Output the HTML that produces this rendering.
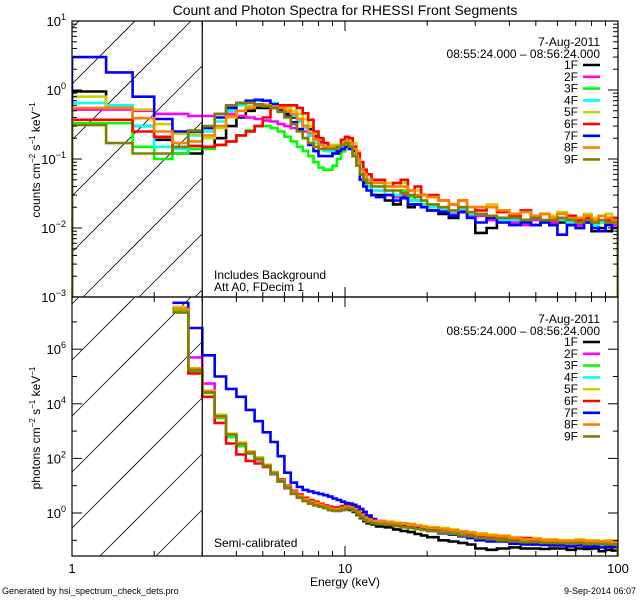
<!DOCTYPE html>
<html><head><meta charset="utf-8">
<style>
html,body{margin:0;padding:0;background:#fff;width:640px;height:600px;overflow:hidden;}
svg{display:block;font-family:"Liberation Sans",sans-serif;overflow:hidden;}
text{fill:#000;}
</style></head>
<body>
<svg id="chart" width="640" height="600" viewBox="0 0 640 600" xmlns="http://www.w3.org/2000/svg">
<defs>
<clipPath id="clipTop"><rect x="72" y="21" width="546" height="276"/></clipPath>
<clipPath id="clipBot"><rect x="72" y="297" width="546" height="259"/></clipPath>
</defs>
<text x="345" y="15" font-size="14" text-anchor="middle">Count and Photon Spectra for RHESSI Front Segments</text>
<g id="hatch"></g>
<g id="series"></g>
<g id="axes"></g>
<g id="legend"></g>
<text x="214" y="279" font-size="12">Includes Background</text>
<text x="214" y="291" font-size="12">Att A0, FDecim 1</text>
<text x="214" y="547" font-size="12">Semi-calibrated</text>
<text transform="translate(40,160) rotate(-90)" font-size="12" text-anchor="middle">counts cm<tspan dy="-5" font-size="8">−2</tspan><tspan dy="5"> s</tspan><tspan dy="-5" font-size="8">−1</tspan><tspan dy="5"> keV</tspan><tspan dy="-5" font-size="8">−1</tspan></text>
<text transform="translate(40,428) rotate(-90)" font-size="12" text-anchor="middle">photons cm<tspan dy="-5" font-size="8">−2</tspan><tspan dy="5"> s</tspan><tspan dy="-5" font-size="8">−1</tspan><tspan dy="5"> keV</tspan><tspan dy="-5" font-size="8">−1</tspan></text>
<text x="345" y="586" font-size="12" text-anchor="middle">Energy (keV)</text>
<text x="2" y="594" font-size="9">Generated by hsi_spectrum_check_dets.pro</text>
<text x="636" y="594" font-size="9" text-anchor="end">9-Sep-2014 06:07</text>
</svg>
<script>
const binEdges=[1,1.333,1.667,2,2.333,2.667,3,3.333,3.667,4,4.333,4.667,5,5.333,5.667,6,6.333,6.667,7,7.333,7.667,8,8.333,8.667,9,9.333,9.667,10,10.333,10.667,11,11.333,11.667,12,12.5,13,14,15,16,17,18,19,20,22,24,26,28,30,33,36,40,44,48,52,56,60,65,70,75,80,85,90,95,100];
const segNames=["1F","2F","3F","4F","5F","6F","7F","8F","9F"];
const segColors=["#000000","#ff00ff","#00ff00","#00ffff","#d0d000","#ff0000","#0000ff","#ff8000","#808000"];
const xTicksMajor=[1,10,100];
const xTickLabels=["1","10","100"];
const topYDecades=[-3,-2,-1,0,1];
const botYLabelDecades=[0,2,4,6];
// count spectra (63 bins)
const cnt1F=[0.95,0.57,0.30,0.19,0.12,0.12, 0.15,0.2,0.3,0.4,0.5,0.55, 0.55,0.55,0.5,0.45,0.4,0.35, 0.3,0.27,0.22,0.18,0.15,0.13, 0.12,0.12,0.13,0.15,0.16,0.13,0.1,0.06,0.045, 0.04,0.03, 0.03,0.025,0.022,0.028,0.02,0.022,0.02, 0.018,0.016,0.014,0.017,0.015, 0.0085,0.01,0.014, 0.012,0.013,0.011,0.012,0.011, 0.012,0.011,0.01,0.012,0.009,0.01,0.009,0.01];
const cnt2F=[0.52,0.52,0.5,0.45,0.45,0.42, 0.42,0.45,0.45,0.42,0.4,0.38, 0.36,0.35,0.32,0.3,0.28,0.26, 0.25,0.22,0.2,0.17,0.15,0.13, 0.12,0.13,0.14,0.16,0.15,0.12,0.09,0.06,0.05, 0.04,0.035, 0.035,0.03,0.028,0.03,0.025,0.025,0.022, 0.02,0.018,0.016,0.018,0.015, 0.015,0.013,0.012, 0.012,0.011,0.013,0.012,0.012, 0.013,0.012,0.011,0.013,0.011,0.012,0.011,0.011];
const cnt3F=[0.33,0.33,0.15,0.1,0.12,0.14, 0.14,0.16,0.18,0.22,0.26,0.3, 0.3,0.28,0.25,0.21,0.18,0.15, 0.13,0.11,0.09,0.075,0.07,0.07, 0.08,0.1,0.13,0.16,0.14,0.11,0.08,0.06,0.05, 0.045,0.04, 0.04,0.035,0.03,0.035,0.028,0.025,0.025, 0.022,0.02,0.018,0.02,0.016, 0.016,0.015,0.013, 0.014,0.012,0.014,0.012,0.013, 0.014,0.013,0.012,0.013,0.011,0.012,0.012,0.012];
const cnt4F=[0.65,0.6,0.3,0.15,0.14,0.22, 0.25,0.35,0.5,0.6,0.65,0.7, 0.7,0.65,0.58,0.5,0.42,0.35, 0.28,0.22,0.17,0.14,0.13,0.13, 0.13,0.14,0.15,0.17,0.16,0.12,0.09,0.07,0.05, 0.04,0.035, 0.035,0.03,0.03,0.032,0.025,0.025,0.022, 0.02,0.019,0.017,0.019,0.016, 0.016,0.014,0.013, 0.013,0.012,0.014,0.012,0.013, 0.013,0.012,0.012,0.013,0.011,0.012,0.012,0.01];
const cnt5F=[0.8,0.55,0.52,0.32,0.23,0.23, 0.2,0.28,0.4,0.5,0.58,0.62, 0.62,0.62,0.6,0.55,0.5,0.45, 0.38,0.3,0.23,0.19,0.17,0.16, 0.16,0.16,0.17,0.19,0.2,0.17,0.13,0.09,0.07, 0.06,0.05, 0.05,0.045,0.04,0.045,0.035,0.035,0.03, 0.028,0.025,0.022,0.025,0.02, 0.02,0.022,0.018, 0.016,0.018,0.015,0.016,0.015, 0.017,0.015,0.014,0.016,0.014,0.015,0.016,0.014];
const cnt6F=[0.37,0.37,0.25,0.21,0.15,0.155, 0.15,0.16,0.18,0.22,0.25,0.3, 0.4,0.55,0.6,0.6,0.6,0.55, 0.46,0.37,0.25,0.2,0.17,0.15, 0.145,0.15,0.19,0.21,0.2,0.15,0.12,0.09,0.07, 0.06,0.05, 0.05,0.04,0.045,0.05,0.035,0.04,0.03, 0.03,0.025,0.022,0.025,0.02, 0.018,0.02,0.017, 0.015,0.018,0.014,0.016,0.013, 0.014,0.015,0.013,0.014,0.012,0.015,0.013,0.014];
const cnt7F=[3.0,1.8,0.8,0.38,0.25,0.25, 0.28,0.4,0.55,0.65,0.7,0.72, 0.7,0.62,0.52,0.42,0.34,0.27, 0.2,0.16,0.13,0.11,0.11,0.11, 0.12,0.13,0.14,0.15,0.14,0.11,0.08,0.05,0.04, 0.035,0.03, 0.028,0.03,0.025,0.027,0.022,0.022,0.02, 0.018,0.017,0.015,0.017,0.014, 0.012,0.014,0.012, 0.011,0.012,0.011,0.012,0.011, 0.008,0.011,0.01,0.012,0.01,0.009,0.011,0.01];
const cnt8F=[0.55,0.55,0.39,0.25,0.17,0.18, 0.22,0.3,0.42,0.5,0.55,0.6, 0.6,0.58,0.55,0.5,0.45,0.38, 0.3,0.24,0.19,0.16,0.15,0.15, 0.15,0.15,0.16,0.18,0.17,0.14,0.1,0.07,0.06, 0.05,0.045, 0.045,0.04,0.04,0.04,0.035,0.03,0.03, 0.028,0.025,0.022,0.025,0.02, 0.02,0.02,0.018, 0.016,0.017,0.015,0.016,0.014, 0.016,0.014,0.014,0.015,0.013,0.015,0.014,0.013];
const cnt9F=[0.31,0.17,0.12,0.12,0.15,0.26, 0.3,0.45,0.6,0.65,0.65,0.62, 0.58,0.55,0.48,0.4,0.32,0.25, 0.2,0.17,0.15,0.14,0.14,0.14, 0.14,0.15,0.16,0.17,0.15,0.11,0.08,0.06,0.05, 0.045,0.04, 0.04,0.035,0.035,0.032,0.03,0.028,0.025, 0.022,0.02,0.018,0.02,0.017, 0.016,0.015,0.014, 0.014,0.013,0.014,0.013,0.013, 0.014,0.013,0.012,0.013,0.012,0.013,0.012,0.012];
// photon spectra (59 bins, starting at 2.333 keV)
const ph1F=[3e7,1.8e5,3e4,3.5e3,7e2,3.3e2,1.6e2,95, 52,28,15,8.5,5.3,3.8, 2.8,2.3,2.0,1.8,1.5,1.3, 1.2,1.2,1.3,1.4,1.3,1.1,0.85,0.65,0.5, 0.42,0.38, 0.32,0.3,0.25,0.22,0.2,0.17,0.15, 0.13,0.1,0.09,0.08,0.07, 0.05,0.045,0.05, 0.055,0.05,0.05,0.048,0.05, 0.05,0.045,0.05,0.048,0.05,0.04,0.045,0.042];
const ph2F=[3e7,5e5,5.5e4,3.5e3,7e2,3e2,1.5e2,85, 48,26,14,8,5,3.6, 2.8,2.3,2.0,1.8,1.6,1.4, 1.3,1.3,1.4,1.5,1.4,1.2,0.95,0.75,0.6, 0.5,0.45, 0.42,0.4,0.36,0.33,0.3,0.28,0.26, 0.24,0.2,0.18,0.16,0.14, 0.12,0.11,0.1, 0.08,0.085,0.07,0.08,0.075, 0.078,0.075,0.08,0.07,0.075,0.07,0.072,0.07];
const ph3F=[2.5e7,1.6e5,2.5e4,3e3,6e2,2.8e2,1.5e2,90, 50,27,15,8.5,5.2,3.8, 2.9,2.4,2.1,1.8,1.5,1.3, 1.3,1.3,1.4,1.6,1.5,1.2,0.95,0.75,0.6, 0.5,0.45, 0.45,0.42,0.38,0.36,0.33,0.3,0.28, 0.26,0.22,0.2,0.18,0.16, 0.13,0.12,0.11, 0.1,0.095,0.09,0.088,0.085, 0.083,0.08,0.08,0.078,0.075,0.075,0.073,0.07];
const ph4F=[3e7,1.7e5,2.8e4,3.3e3,7e2,3.2e2,1.6e2,95, 54,28,15,8.8,5.5,4, 3,2.4,2.1,1.9,1.6,1.4, 1.3,1.3,1.4,1.6,1.5,1.2,0.95,0.72,0.58, 0.48,0.43, 0.4,0.38,0.34,0.32,0.3,0.27,0.25, 0.22,0.2,0.18,0.16,0.14, 0.12,0.11,0.1, 0.09,0.085,0.08,0.08,0.078, 0.075,0.072,0.075,0.07,0.07,0.068,0.07,0.06];
const ph5F=[3.5e7,2e5,3e4,4e3,8e2,3.8e2,1.8e2,1.1e2, 60,32,17,10,6.3,4.5, 3.4,2.8,2.4,2.1,1.8,1.6, 1.5,1.5,1.6,1.8,1.7,1.5,1.2,0.9,0.7, 0.6,0.55, 0.5,0.48,0.45,0.42,0.4,0.36,0.33, 0.3,0.28,0.25,0.22,0.2, 0.18,0.16,0.15, 0.13,0.12,0.12,0.11,0.11, 0.1,0.1,0.11,0.1,0.1,0.095,0.1,0.09];
const ph6F=[3e7,1.3e5,1.8e4,2e3,3.5e2,1.4e2,80,65, 50,30,17,10,6.5,4.8, 3.6,3,2.6,2.2,1.9,1.7, 1.6,1.6,1.8,2,1.9,1.6,1.3,1,0.8, 0.65,0.55, 0.5,0.46,0.42,0.4,0.36,0.33,0.3, 0.28,0.25,0.22,0.2,0.18, 0.15,0.14,0.13, 0.11,0.12,0.1,0.1,0.095, 0.095,0.09,0.095,0.085,0.09,0.085,0.088,0.085];
const ph7F=[5e7,6e6,6e5,1e5,3.5e4,1.8e4,6e3,2.3e3, 9e2,4e2,1.2e2,30,13,9, 7,6.2,5.5,5,4.5,4, 3.4,3,2.6,2.3,2.2,2,1.7,1.4,1.1, 0.8,0.6, 0.5,0.45,0.38,0.35,0.3,0.28,0.25, 0.22,0.18,0.16,0.14,0.12, 0.1,0.09,0.09, 0.075,0.07,0.07,0.068,0.065, 0.065,0.06,0.065,0.058,0.06,0.055,0.058,0.056];
const ph8F=[3e7,1.9e5,2.8e4,3.3e3,7.5e2,3.5e2,1.7e2,1e2, 56,30,16,9.5,6,4.3, 3.2,2.6,2.3,2,1.7,1.5, 1.4,1.4,1.5,1.7,1.6,1.4,1.1,0.85,0.68, 0.58,0.52, 0.5,0.46,0.42,0.4,0.36,0.34,0.31, 0.29,0.26,0.23,0.21,0.19, 0.16,0.15,0.14, 0.12,0.11,0.11,0.1,0.1, 0.095,0.095,0.1,0.09,0.092,0.09,0.09,0.085];
const ph9F=[2.2e7,1.7e5,2.6e4,3.5e3,7.5e2,3.3e2,1.6e2,95, 52,28,15,8.5,5.2,3.7, 2.7,2.2,1.9,1.7,1.5,1.3, 1.2,1.2,1.3,1.5,1.4,1.2,0.9,0.7,0.55, 0.47,0.42, 0.4,0.37,0.33,0.3,0.28,0.26,0.24, 0.22,0.19,0.17,0.15,0.14, 0.12,0.11,0.1, 0.09,0.085,0.085,0.08,0.08, 0.078,0.075,0.078,0.072,0.075,0.072,0.07,0.07];
const countSeries=[cnt1F,cnt2F,cnt3F,cnt4F,cnt5F,cnt6F,cnt7F,cnt8F,cnt9F];
const photonSeries=[ph1F,ph2F,ph3F,ph4F,ph5F,ph6F,ph7F,ph8F,ph9F];
const photonStartBin=4;

const NS="http://www.w3.org/2000/svg";
const X0=72,X1=618,TT=21,TB=297,BT=297,BB=556;
function xs(e){return X0+273*Math.log10(e);}
function ysTop(v){return 90-69*Math.log10(v);}
function ysBot(v){return 513-27.3*Math.log10(v);}
function clampY(y,a,b){return Math.max(a,Math.min(b,y));}
function mk(tag,attrs,parent){const el=document.createElementNS(NS,tag);for(const k in attrs)el.setAttribute(k,attrs[k]);parent.appendChild(el);return el;}

// hatch: lines y = c - x, clipped analytically to region [72,203] x [top,bottom]
const hatch=document.getElementById('hatch');
const HX1=xs(3);
[[TT,TB,156],[BT,BB,432]].forEach(function(p,pi){
  const g=mk('g',{},hatch);
  
  
  for(let k=-12;k<=12;k++){const c=p[2]+56*k;
    let xa=Math.max(X0,c-p[1]), xb=Math.min(HX1,c-p[0]);
    if(xb-xa<0.5)continue;
    const ln=mk('line',{x1:xa,y1:c-xa,x2:xb,y2:c-xb,stroke:'#000','stroke-width':0.8},g);
    
    }
});

// series
const sl=document.getElementById('series');
function stepPath(vals,startBin,ysf,top,bottom,fromBottom){
  let d='';
  for(let i=0;i<vals.length;i++){
    const b=startBin+i;
    const y=clampY(ysf(vals[i]),top-2,bottom).toFixed(1);
    const seg=xs(binEdges[b]).toFixed(1)+','+y+' L'+xs(binEdges[b+1]).toFixed(1)+','+y;
    if(i===0){d=fromBottom?('M'+xs(binEdges[b]).toFixed(1)+','+bottom+' L'+seg):('M'+seg);}
    else d+=' L'+seg;
  }
  d+=' L'+xs(binEdges[startBin+vals.length]).toFixed(1)+','+bottom;
  return d;
}
const gTop=mk('g',{'clip-path':'url(#clipTop)'},sl);


const gBot=mk('g',{'clip-path':'url(#clipBot)'},sl);


for(let s=0;s<9;s++){
  const p1=mk('path',{d:stepPath(countSeries[s],0,ysTop,TT,TB,true),fill:'none',stroke:segColors[s],'stroke-width':2.6},gTop);
  
  
  const p2=mk('path',{d:stepPath(photonSeries[s],photonStartBin,ysBot,BT,BB,false),fill:'none',stroke:segColors[s],'stroke-width':2.6},gBot);
  
  
}

// axes
const ax=document.getElementById('axes');
[[TT,TB,'top-panel-frame'],[BT,BB,'bottom-panel-frame']].forEach(function(p){
  const r=mk('rect',{x:X0,y:p[0],width:X1-X0,height:p[1]-p[0],fill:'none',stroke:'#000','stroke-width':1.2},ax);
  
  
  const v=mk('line',{x1:xs(3),y1:p[0],x2:xs(3),y2:p[1],stroke:'#000','stroke-width':1.2},ax);
  
  
  for(let dec=1;dec<100;dec*=10){for(let m=1;m<=9;m++){const e=dec*m;const x=xs(e);const L=(m===1)?10:5;
    mk('line',{x1:x,y1:p[0],x2:x,y2:p[0]+L,stroke:'#000','stroke-width':1},ax);
    mk('line',{x1:x,y1:p[1],x2:x,y2:p[1]-L,stroke:'#000','stroke-width':1},ax);}}
});
for(let d=-3;d<1;d++){for(let m=1;m<=9;m++){const y=ysTop(m*Math.pow(10,d));const L=m===1?10:5;
  mk('line',{x1:X0,y1:y,x2:X0+L,y2:y,stroke:'#000'},ax);mk('line',{x1:X1,y1:y,x2:X1-L,y2:y,stroke:'#000'},ax);}}
mk('line',{x1:X0,y1:TT,x2:X0+10,y2:TT,stroke:'#000'},ax);mk('line',{x1:X1,y1:TT,x2:X1-10,y2:TT,stroke:'#000'},ax);
topYDecades.forEach(function(d){
  const t=mk('text',{x:66,y:ysTop(Math.pow(10,d))+5,'font-size':13,'text-anchor':'end'},ax);
  
  
  t.innerHTML='10<tspan dy="-6" font-size="9">'+(d<0?'−'+(-d):d)+'</tspan>';
});
for(let d=-1;d<=7;d++){const y=ysBot(Math.pow(10,d));if(y<BT||y>BB)continue;const L=(d%2===0)?10:5;
  mk('line',{x1:X0,y1:y,x2:X0+L,y2:y,stroke:'#000'},ax);mk('line',{x1:X1,y1:y,x2:X1-L,y2:y,stroke:'#000'},ax);}
botYLabelDecades.forEach(function(d){
  const t=mk('text',{x:66,y:ysBot(Math.pow(10,d))+5,'font-size':13,'text-anchor':'end'},ax);
  
  
  t.innerHTML='10<tspan dy="-6" font-size="9">'+d+'</tspan>';
});
xTicksMajor.forEach(function(e,i){
  const t=mk('text',{x:xs(e),y:573,'font-size':13,'text-anchor':'middle'},ax);
  
  
  t.textContent=xTickLabels[i];
});

// legends
const lg=document.getElementById('legend');
[[42,'top'],[319,'bottom']].forEach(function(p){
  const y0=p[0];
  const a=mk('text',{x:600,y:y0+4,'font-size':12,'text-anchor':'end'},lg);
  
  
  a.textContent='7-Aug-2011';
  const b=mk('text',{x:600,y:y0+16,'font-size':12,'text-anchor':'end'},lg);
  
  
  b.textContent='08:55:24.000 – 08:56:24.000';
  for(let s=0;s<9;s++){const yy=y0+23+s*11.8;
    const t=mk('text',{x:578,y:yy+4,'font-size':12,'text-anchor':'end'},lg);
    
    
    t.textContent=segNames[s];
    const l=mk('line',{x1:583,y1:yy,x2:600,y2:yy,stroke:segColors[s],'stroke-width':2.6},lg);
    
    }
});
</script>
</body></html>
